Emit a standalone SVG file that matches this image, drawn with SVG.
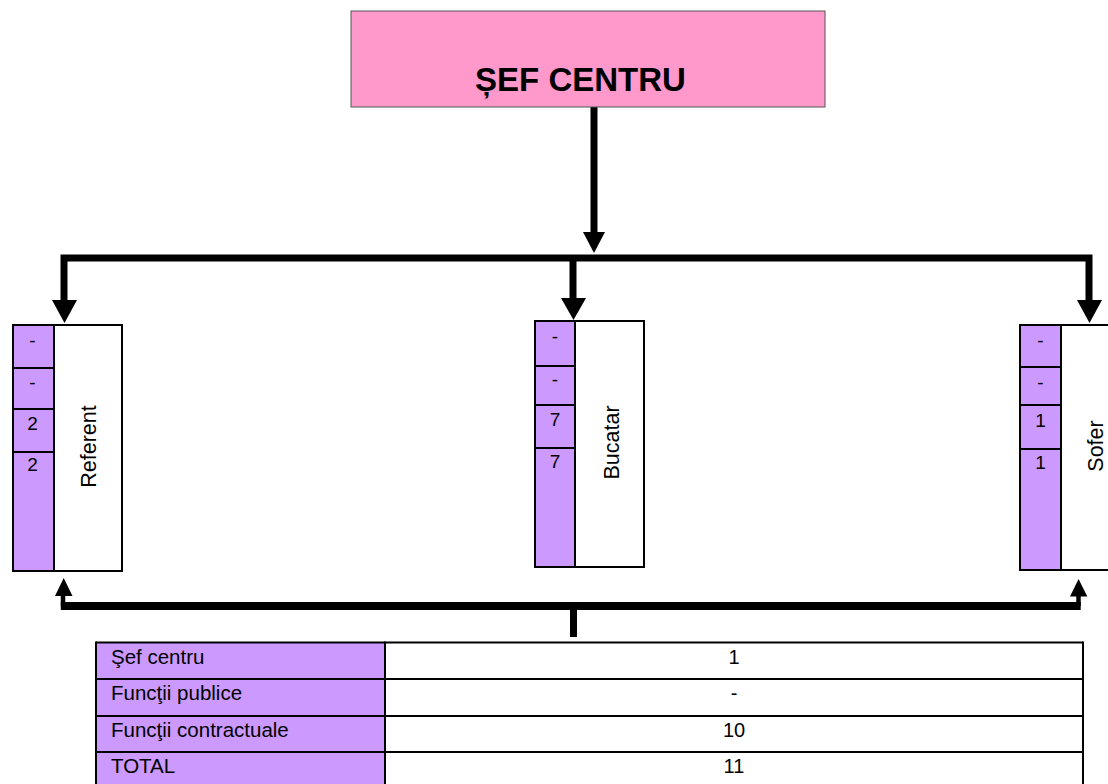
<svg xmlns="http://www.w3.org/2000/svg" width="1108" height="784" viewBox="0 0 1108 784">
<style>
text{font-family:"Liberation Sans",Arial,sans-serif;fill:#000}
.title{font-size:33px;font-weight:bold;text-anchor:middle}
.num{font-size:19px;text-anchor:middle}
.lbl{font-size:21.5px;text-anchor:middle}
.tl{font-size:20.5px}
.tr{font-size:20px;text-anchor:middle}
.pur{fill:#cc99ff}
.box{fill:none;stroke:#000;stroke-width:2}
.ln{stroke:#000;stroke-width:2}
.thick{fill:none;stroke:#000;stroke-width:7;stroke-linejoin:miter}
.thin{fill:none;stroke:#000;stroke-width:4.5}
.bar{fill:none;stroke:#000;stroke-width:8}
</style>
<rect width="1108" height="784" fill="#fff"/>
<g id="connectors">
  <line class="thick" x1="594" y1="107" x2="594" y2="234"/>
  <polygon points="583,232 605,232 594,253"/>
  <polyline class="thick" points="64,302 64,258 1089,258 1089,302"/>
  <line class="thick" x1="573" y1="258" x2="573" y2="300"/>
  <polygon points="52,300 77,300 64.5,323"/>
  <polygon points="561,298 586,298 573.5,320"/>
  <polygon points="1077,300 1102,300 1089.5,323"/>
  <polyline class="thin" points="63,596 63,606"/>
  <line class="bar" x1="60.8" y1="606" x2="1080.7" y2="606"/>
  <line class="thin" x1="1078.5" y1="595" x2="1078.5" y2="606"/>
  <line x1="573.5" y1="606" x2="573.5" y2="637" stroke="#000" stroke-width="7"/>
  <polygon points="55,596 72.5,596 63.7,578"/>
  <polygon points="1070,596.5 1087.3,596.5 1078.6,579"/>
</g>
<g id="sef-centru">
  <rect x="351" y="11" width="474" height="96" fill="#ff99cc" stroke="#555" stroke-width="1"/>
  <text class="title" x="580.5" y="91">ȘEF CENTRU</text>
</g>
<g id="referent">
  <rect class="pur" x="13" y="325" width="41" height="246"/>
  <rect x="54" y="325" width="68" height="246" fill="#fff"/>
  <rect class="box" x="13" y="325" width="109" height="246"/>
  <line class="ln" x1="54" y1="325" x2="54" y2="571"/>
  <line class="ln" x1="13" y1="368" x2="54" y2="368"/>
  <line class="ln" x1="13" y1="409" x2="54" y2="409"/>
  <line class="ln" x1="13" y1="452" x2="54" y2="452"/>
  <text class="num" x="32.5" y="347">-</text>
  <text class="num" x="32.5" y="389">-</text>
  <text class="num" x="32.5" y="430">2</text>
  <text class="num" x="32.5" y="471">2</text>
  <text class="lbl" transform="translate(88,446.5) rotate(-90)" y="8">Referent</text>
</g>
<g id="bucatar">
  <rect class="pur" x="535" y="321" width="40" height="246"/>
  <rect x="575" y="321" width="69" height="246" fill="#fff"/>
  <rect class="box" x="535" y="321" width="109" height="246"/>
  <line class="ln" x1="575" y1="321" x2="575" y2="567"/>
  <line class="ln" x1="535" y1="366" x2="575" y2="366"/>
  <line class="ln" x1="535" y1="405" x2="575" y2="405"/>
  <line class="ln" x1="535" y1="448" x2="575" y2="448"/>
  <text class="num" x="555" y="343">-</text>
  <text class="num" x="555" y="386">-</text>
  <text class="num" x="555" y="426">7</text>
  <text class="num" x="555" y="468">7</text>
  <text class="lbl" transform="translate(611,442.5) rotate(-90)" y="8">Bucatar</text>
</g>
<g id="sofer">
  <rect class="pur" x="1020" y="325" width="41" height="245"/>
  <rect x="1061" y="325" width="60" height="245" fill="#fff"/>
  <rect class="box" x="1020" y="325" width="100" height="245"/>
  <line class="ln" x1="1061" y1="325" x2="1061" y2="570"/>
  <line class="ln" x1="1020" y1="367" x2="1061" y2="367"/>
  <line class="ln" x1="1020" y1="405" x2="1061" y2="405"/>
  <line class="ln" x1="1020" y1="449" x2="1061" y2="449"/>
  <text class="num" x="1040.5" y="347">-</text>
  <text class="num" x="1040.5" y="389">-</text>
  <text class="num" x="1040.5" y="427">1</text>
  <text class="num" x="1040.5" y="469">1</text>
  <text class="lbl" transform="translate(1096,446) rotate(-90)" y="7">Sofer</text>
</g>
<g id="summary-table">
  <rect class="pur" x="96" y="642.5" width="289" height="150"/>
  <rect x="385" y="642.5" width="698" height="150" fill="#fff"/>
  <line class="ln" x1="96" y1="642.5" x2="1083" y2="642.5"/>
  <line class="ln" x1="96" y1="679" x2="1083" y2="679"/>
  <line class="ln" x1="96" y1="716" x2="1083" y2="716"/>
  <line class="ln" x1="96" y1="752" x2="1083" y2="752"/>
  <line class="ln" x1="96" y1="641.5" x2="96" y2="790"/>
  <line class="ln" x1="385" y1="641.5" x2="385" y2="790"/>
  <line class="ln" x1="1083" y1="641.5" x2="1083" y2="790"/>
  <text class="tl" x="111" y="664">Şef centru</text>
  <text class="tl" x="111" y="700">Funcţii publice</text>
  <text class="tl" x="111" y="737">Funcţii contractuale</text>
  <text class="tl" x="111" y="773">TOTAL</text>
  <text class="tr" x="734" y="664">1</text>
  <text class="tr" x="734" y="700">-</text>
  <text class="tr" x="734" y="737">10</text>
  <text class="tr" x="734" y="773">11</text>
</g>
</svg>
